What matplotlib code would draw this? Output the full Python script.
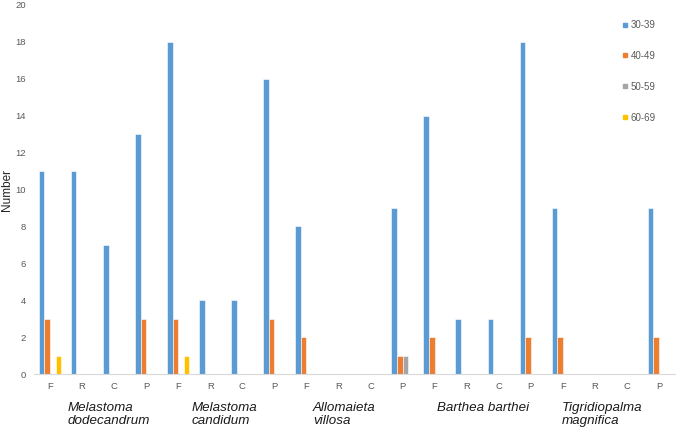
import matplotlib
matplotlib.use('Agg')
import matplotlib.pyplot as plt
import numpy as np
from matplotlib.lines import Line2D

plt.rcParams['font.family'] = ['Liberation Sans', 'DejaVu Sans']

species = ['Melastoma\ndodecandrum', 'Melastoma\ncandidum', 'Allomaieta\nvillosa',
           'Barthea barthei', 'Tigridiopalma\nmagnifica']
stages = ['F', 'R', 'C', 'P']
age_classes = ['30-39', '40-49', '50-59', '60-69']

# one value per species x stage (F, R, C, P)
n_30_39 = [11, 11, 7, 13, 18, 4, 4, 16, 8, 0, 0, 9, 14, 3, 3, 18, 9, 0, 0, 9]
n_40_49 = [3, 0, 0, 3, 3, 0, 0, 3, 2, 0, 0, 1, 2, 0, 0, 2, 2, 0, 0, 2]
n_50_59 = [0, 0, 0, 0, 0, 0, 0, 0, 0, 0, 0, 1, 0, 0, 0, 0, 0, 0, 0, 0]
n_60_69 = [1, 0, 0, 0, 1, 0, 0, 0, 0, 0, 0, 0, 0, 0, 0, 0, 0, 0, 0, 0]

series = [n_30_39, n_40_49, n_50_59, n_60_69]
colors = ['#5B9BD5', '#ED7D31', '#A5A5A5', '#FFC000']

fig = plt.figure(figsize=(6.77, 4.3), dpi=100)
ax = fig.add_axes([34 / 677, 56 / 430, 641 / 677, 369 / 430])

x = np.arange(len(species) * len(stages))
step = 0.175
for i, vals in enumerate(series):
    ax.bar(x + (i - 1.5) * step, vals, width=step, color=colors[i],
           edgecolor='white', linewidth=0.4, label=age_classes[i])

ax.set_xlim(-0.5, len(x) - 0.5)
ax.set_ylim(0, 20)
ax.set_yticks(np.arange(0, 21, 2))
ax.set_xticks(x)
ax.set_xticklabels(stages * len(species))
ax.tick_params(axis='both', length=0, labelsize=6.8, colors='#595959')
ax.tick_params(axis='y', pad=6)
ax.tick_params(axis='x', pad=6)
for side in ['top', 'right', 'left']:
    ax.spines[side].set_visible(False)
ax.spines['bottom'].set_color('#D9D9D9')
ax.spines['bottom'].set_linewidth(0.8)

# y label sits right at the left edge
fig.text(7 / 677, 1 - 190 / 430, 'Number', rotation=90, ha='center', va='center',
         fontsize=8.5, color='#222222')

# species names are left aligned, a bit right of each group's start (like Excel)
label_shift = [1.06, 0.93, 0.71, 0.57, 0.47]
for k, name in enumerate(species):
    gx = k * len(stages) - 0.5 + label_shift[k]
    ax.annotate(name, xy=(gx, 0), xycoords=('data', 'axes fraction'),
                xytext=(0, -20.5), textcoords='offset points',
                ha='left', va='top', multialignment='left',
                fontsize=9.6, style='italic', color='#1a1a1a', linespacing=1.05)

handles = [Line2D([], [], marker='s', linestyle='none', markersize=3.5,
                  markerfacecolor=c, markeredgecolor=c) for c in colors]
ax.legend(handles, age_classes, loc='upper left',
          bbox_to_anchor=(622 / 677, 1 - 20 / 430), bbox_transform=fig.transFigure,
          frameon=False, fontsize=7, labelcolor='#595959', borderpad=0,
          borderaxespad=0, handlelength=0.6, handletextpad=0.3, labelspacing=2.15)

fig.savefig('out.png', dpi=100)
